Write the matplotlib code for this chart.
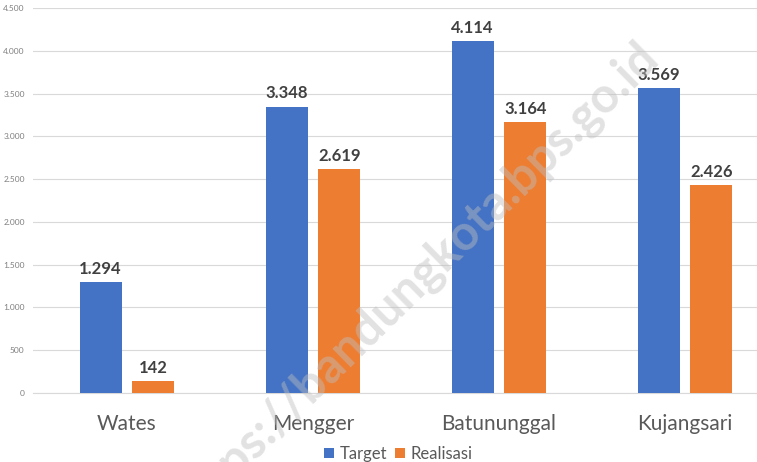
import matplotlib.pyplot as plt
import numpy as np

kecamatan = ["Wates", "Mengger", "Batununggal", "Kujangsari"]
target = [1294, 3348, 4114, 3569]
realisasi = [142, 2619, 3164, 2426]
y_ticks = [0, 500, 1000, 1500, 2000, 2500, 3000, 3500, 4000, 4500]

def fmt_id(v):
    # format angka gaya Indonesia: 1.294
    return f"{v:,}".replace(",", ".")

plt.rcParams['font.family'] = ['Lato', 'DejaVu Sans']

fig = plt.figure(figsize=(7.57, 4.62), dpi=100)
ax = fig.add_axes([33 / 757, 1 - 393 / 462, 1 - 33 / 757, 385 / 462])

x = np.arange(len(kecamatan))
lebar = 0.226
geser = 0.142
bar1 = ax.bar(x - geser, target, lebar, color="#4472c4", label="Target", zorder=3)
bar2 = ax.bar(x + geser, realisasi, lebar, color="#ed7d31", label="Realisasi", zorder=3)

for bars, vals in [(bar1, target), (bar2, realisasi)]:
    for b, v in zip(bars, vals):
        ax.text(b.get_x() + b.get_width() / 2, v + 60, fmt_id(v), ha="center", va="bottom",
                fontsize=12, fontweight="bold", color="#404040", zorder=4)

ax.set_xlim(-0.505, 3.387)
ax.set_ylim(0, 4500)
ax.set_yticks(y_ticks)
ax.set_yticklabels([fmt_id(v) for v in y_ticks], fontsize=6, color="#7f7f7f")
ax.set_xticks(x)
ax.set_xticklabels(kecamatan, fontsize=15, color="#595959")
ax.tick_params(axis="both", length=0)
ax.tick_params(axis="x", pad=15)
ax.tick_params(axis="y", pad=6)
ax.grid(axis="y", color="#d9d9d9", linewidth=0.8, zorder=0)
for s in ["top", "right", "left"]:
    ax.spines[s].set_visible(False)
ax.spines["bottom"].set_color("#d9d9d9")

fig.legend(loc="lower center", bbox_to_anchor=(0.526, -0.032), ncol=2, frameon=False,
           fontsize=12, handlelength=0.6, handleheight=0.6, handletextpad=0.3,
           columnspacing=0.5, labelcolor="#595959")

# watermark
fig.text(0.548, 0.392, "https://bandungkota.bps.go.id", rotation=44.5, fontsize=35,
         fontweight="bold", color="#bfbfbf", alpha=0.45, ha="center", va="center",
         zorder=10)

fig.savefig("out.png", dpi=100)
